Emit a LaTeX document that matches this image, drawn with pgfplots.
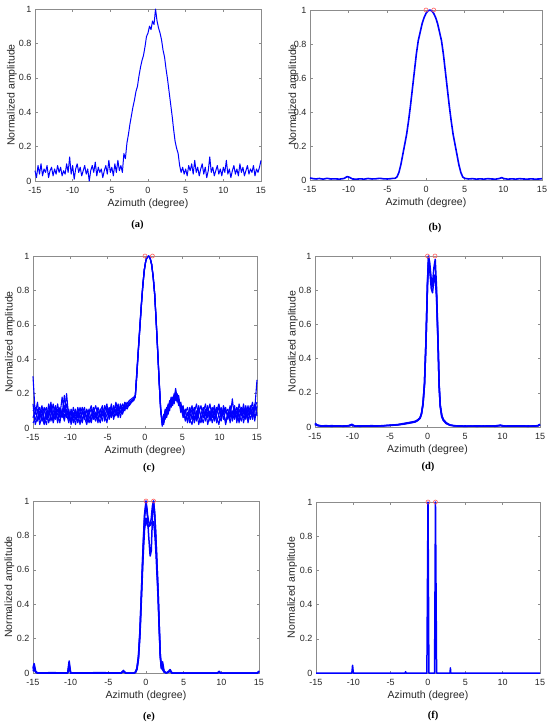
\documentclass[border=0pt]{standalone}
\usepackage{fontspec}
\setmainfont{Liberation Sans}
\newfontfamily\capfont{Liberation Serif}
\usepackage{pgfplots}
\usepackage{pgfplotstable}
\pgfplotsset{compat=1.18}
\definecolor{mblue}{rgb}{0,0,1}
\definecolor{mred}{rgb}{1,0.35,0.35}
\definecolor{mgray}{gray}{0.55}
\definecolor{mtext}{gray}{0.15}

\pgfplotstableread{
x c1 c2 c3 c4 c5
-15.0 0.30 0.14 0.10 0.06 0.03
-14.7 0.08 0.02 0.12 0.10 0.05
-14.4 0.15 0.06 0.04 0.11 0.09
-14.1 0.05 0.10 0.08 0.02 0.12
-13.8 0.11 0.04 0.13 0.07 0.06
-13.5 0.03 0.09 0.06 0.12 0.02
-13.2 0.09 0.12 0.02 0.05 0.10
-12.9 0.06 0.03 0.10 0.14 0.07
-12.6 0.13 0.08 0.15 0.04 0.11
-12.3 0.07 0.14 0.05 0.09 0.03
-12.0 0.10 0.05 0.12 0.13 0.08
-11.7 0.04 0.11 0.08 0.03 0.14
-11.4 0.12 0.07 0.03 0.10 0.06
-11.1 0.08 0.18 0.11 0.06 0.10
-10.8 0.19 0.09 0.06 0.13 0.04
-10.5 0.06 0.20 0.14 0.08 0.11
-10.2 0.11 0.05 0.09 0.03 0.07
-9.9 0.02 0.10 0.04 0.11 0.09
-9.6 0.09 0.06 0.12 0.07 0.03
-9.3 0.05 0.11 0.07 0.02 0.10
-9.0 0.12 0.03 0.09 0.10 0.06
-8.7 0.07 0.08 0.02 0.06 0.12
-8.4 0.03 0.12 0.10 0.09 0.05
-8.1 0.10 0.06 0.05 0.12 0.08
-7.8 0.06 0.02 0.11 0.04 0.10
-7.5 0.11 0.09 0.07 0.08 0.03
-7.2 0.04 0.13 0.03 0.11 0.07
-6.9 0.09 0.07 0.10 0.05 0.12
-6.6 0.13 0.04 0.06 0.09 0.08
-6.3 0.07 0.10 0.12 0.03 0.05
-6.0 0.03 0.06 0.08 0.11 0.10
-5.7 0.10 0.12 0.04 0.07 0.13
-5.4 0.06 0.08 0.13 0.10 0.04
-5.1 0.12 0.03 0.09 0.14 0.08
-4.8 0.08 0.11 0.06 0.05 0.12
-4.5 0.14 0.07 0.12 0.09 0.06
-4.2 0.05 0.13 0.08 0.12 0.10
-3.9 0.11 0.09 0.15 0.07 0.13
-3.6 0.08 0.14 0.10 0.12 0.06
-3.3 0.13 0.06 0.12 0.09 0.14
-3.0 0.10 0.12 0.08 0.14 0.11
-2.7 0.14 0.10 0.13 0.11 0.15
-2.4 0.12 0.15 0.11 0.14 0.13
-2.1 0.15 0.13 0.14 0.16 0.14
-1.8 0.16 0.15 0.15 0.17 0.16
-1.5 0.17 0.17 0.16 0.18 0.17
-1.3 0.19 0.18 0.18 0.19 0.18
-1.1 0.32 0.30 0.33 0.31 0.30
-0.9 0.45 0.44 0.46 0.45 0.44
-0.7 0.58 0.57 0.59 0.58 0.57
-0.5 0.71 0.70 0.72 0.71 0.70
-0.3 0.83 0.82 0.83 0.82 0.82
-0.1 0.92 0.91 0.92 0.92 0.91
0.1 0.97 0.97 0.97 0.97 0.97
0.3 0.995 0.995 0.995 0.995 0.995
0.5 1.0 1.0 1.0 1.0 1.0
0.7 0.985 0.985 0.985 0.985 0.985
0.9 0.95 0.95 0.94 0.95 0.95
1.1 0.88 0.87 0.88 0.88 0.87
1.3 0.78 0.77 0.78 0.78 0.77
1.5 0.62 0.61 0.63 0.62 0.61
1.7 0.45 0.44 0.46 0.45 0.44
1.9 0.27 0.26 0.28 0.27 0.26
2.1 0.11 0.10 0.12 0.11 0.10
2.3 0.03 0.05 0.02 0.04 0.01
2.5 0.06 0.02 0.08 0.03 0.05
2.7 0.10 0.07 0.05 0.09 0.11
2.9 0.07 0.12 0.10 0.06 0.09
3.1 0.13 0.09 0.14 0.11 0.08
3.3 0.10 0.15 0.12 0.16 0.13
3.5 0.16 0.13 0.17 0.12 0.18
3.7 0.14 0.18 0.15 0.17 0.13
3.9 0.19 0.15 0.20 0.14 0.17
4.1 0.17 0.21 0.16 0.19 0.23
4.3 0.20 0.16 0.19 0.15 0.18
4.5 0.15 0.19 0.13 0.17 0.14
4.8 0.12 0.10 0.15 0.09 0.13
5.1 0.08 0.13 0.07 0.12 0.06
5.4 0.11 0.05 0.10 0.04 0.09
5.7 0.04 0.09 0.03 0.08 0.12
6.0 0.09 0.03 0.12 0.06 0.05
6.3 0.13 0.08 0.05 0.11 0.02
6.6 0.05 0.12 0.09 0.03 0.10
6.9 0.10 0.04 0.14 0.08 0.06
7.2 0.02 0.09 0.06 0.13 0.11
7.5 0.08 0.13 0.03 0.05 0.07
7.8 0.12 0.06 0.10 0.09 0.03
8.1 0.04 0.11 0.07 0.14 0.09
8.4 0.09 0.02 0.12 0.06 0.13
8.7 0.14 0.08 0.04 0.10 0.05
9.0 0.06 0.12 0.09 0.03 0.11
9.3 0.11 0.05 0.13 0.08 0.04
9.6 0.03 0.10 0.06 0.12 0.08
9.9 0.08 0.14 0.02 0.07 0.12
10.2 0.12 0.07 0.10 0.04 0.06
10.5 0.05 0.11 0.08 0.13 0.10
10.8 0.10 0.03 0.12 0.09 0.02
11.1 0.07 0.09 0.05 0.11 0.08
11.4 0.13 0.06 0.10 0.03 0.12
11.7 0.04 0.17 0.08 0.10 0.06
12.0 0.09 0.05 0.13 0.07 0.11
12.3 0.12 0.10 0.03 0.12 0.05
12.6 0.06 0.03 0.11 0.08 0.14
12.9 0.11 0.12 0.07 0.04 0.09
13.2 0.03 0.08 0.14 0.11 0.06
13.5 0.10 0.13 0.05 0.07 0.12
13.8 0.07 0.04 0.11 0.13 0.03
14.1 0.13 0.10 0.08 0.05 0.10
14.4 0.05 0.15 0.12 0.09 0.07
14.7 0.11 0.06 0.04 0.14 0.12
15.0 0.28 0.09 0.13 0.07 0.15
}\tabc

\pgfplotstableread{
x d1 d2 d3
-15.0 0.022 0.018 0.015
-14.7 0.012 0.010 0.008
-14.2 0.006 0.007 0.005
-13.5 0.008 0.005 0.006
-12.8 0.005 0.008 0.004
-12.0 0.007 0.005 0.006
-11.2 0.005 0.006 0.004
-10.5 0.008 0.006 0.007
-10.1 0.016 0.012 0.010
-9.7 0.006 0.005 0.006
-9.0 0.005 0.007 0.004
-8.2 0.007 0.005 0.006
-7.5 0.006 0.008 0.005
-6.8 0.005 0.006 0.007
-6.0 0.008 0.007 0.006
-5.3 0.009 0.008 0.010
-4.6 0.012 0.010 0.011
-4.0 0.014 0.013 0.012
-3.5 0.018 0.016 0.015
-3.0 0.022 0.020 0.018
-2.5 0.026 0.024 0.022
-2.0 0.030 0.028 0.026
-1.6 0.034 0.032 0.030
-1.3 0.042 0.040 0.038
-1.0 0.055 0.052 0.050
-0.8 0.080 0.078 0.076
-0.6 0.140 0.135 0.130
-0.4 0.26 0.25 0.25
-0.2 0.51 0.50 0.50
0.0 0.85 0.84 0.83
0.13 1.0 0.98 0.96
0.3 0.96 0.93 0.92
0.5 0.86 0.84 0.81
0.67 0.84 0.82 0.785
0.85 0.93 0.88 0.86
1.03 0.98 0.89 0.87
1.2 0.82 0.78 0.76
1.4 0.51 0.50 0.49
1.55 0.25 0.24 0.24
1.7 0.13 0.12 0.12
1.9 0.070 0.065 0.060
2.1 0.045 0.040 0.040
2.5 0.025 0.022 0.020
3.0 0.012 0.011 0.010
3.6 0.007 0.006 0.008
4.3 0.005 0.007 0.005
5.0 0.006 0.005 0.004
5.8 0.005 0.006 0.005
6.6 0.007 0.004 0.006
7.4 0.005 0.006 0.005
8.2 0.006 0.005 0.007
9.0 0.005 0.007 0.004
9.7 0.011 0.009 0.008
10.3 0.005 0.006 0.005
11.0 0.006 0.005 0.007
11.8 0.005 0.007 0.005
12.6 0.007 0.005 0.006
13.4 0.005 0.006 0.004
14.2 0.006 0.005 0.007
14.7 0.008 0.007 0.006
15.0 0.016 0.014 0.012
}\tabd

\pgfplotstableread{
x e1 e2 e3
-15.0 0.030 0.020 0.010
-14.85 0.055 0.040 0.020
-14.65 0.010 0.008 0.005
-14.4 0.0 0.0 0.0
-12.5 0.002 0.001 0.0
-10.4 0.0 0.0 0.0
-10.2 0.070 0.050 0.030
-10.0 0.0 0.0 0.0
-6.0 0.002 0.001 0.0
-3.3 0.0 0.0 0.0
-3.0 0.015 0.010 0.008
-2.7 0.0 0.0 0.0
-1.6 0.0 0.0 0.0
-1.4 0.005 0.004 0.003
-1.2 0.030 0.025 0.020
-1.0 0.10 0.09 0.08
-0.8 0.25 0.24 0.22
-0.6 0.48 0.47 0.44
-0.4 0.72 0.71 0.66
-0.2 0.92 0.90 0.83
0.0 1.0 0.98 0.90
0.15 0.95 0.93 0.86
0.35 0.80 0.88 0.85
0.55 0.68 0.86 0.86
0.7 0.71 0.87 0.90
0.85 0.90 0.88 0.97
1.0 1.0 0.88 1.0
1.15 0.93 0.82 0.93
1.3 0.80 0.72 0.80
1.45 0.64 0.58 0.64
1.6 0.48 0.44 0.48
1.75 0.28 0.26 0.28
1.9 0.10 0.09 0.10
2.05 0.030 0.025 0.030
2.2 0.065 0.040 0.020
2.4 0.010 0.008 0.005
2.7 0.0 0.0 0.0
3.0 0.010 0.008 0.005
3.2 0.020 0.015 0.010
3.45 0.0 0.0 0.0
9.5 0.0 0.0 0.0
9.7 0.010 0.008 0.005
9.9 0.0 0.0 0.0
14.8 0.0 0.0 0.0
15.0 0.012 0.010 0.008
}\tabe

\pgfplotsset{
  mstyle/.style={
    scale only axis, anchor=north west,
    xmin=-15, xmax=15, ymin=0, ymax=1,
    xtick={-15,-10,-5,0,5,10,15},
    xticklabels={-15,-10,-5,0,5,10,15},
    ytick={0,0.2,0.4,0.6,0.8,1},
    yticklabels={0,0.2,0.4,0.6,0.8,1},
    tick align=inside, tick pos=both,
    major tick length=2.5pt,
    axis line style={mgray, line width=0.6pt},
    every tick/.style={mgray, line width=0.5pt},
    tick label style={font=\fontsize{9}{10}\selectfont, text=mtext},
    xticklabel style={yshift=-2.5pt},
    xlabel={Azimuth (degree)}, ylabel={Normalized amplitude},
    label style={font=\fontsize{10.5}{12}\selectfont, text=mtext},
    xlabel style={at={(axis description cs:0.5,-0.135)}, anchor=center},
    clip=false,
  },
  cline/.style={mblue, line width=1.5pt, line join=round},
  circs/.style={only marks, mark=o, mark size=2pt, mred, mark options={line width=0.6pt}},
}

\begin{document}
\begin{tikzpicture}
\path[use as bounding box] (0,0) rectangle (550pt,-726pt);

% (a)
\begin{axis}[mstyle, at={(35pt,-9pt)}, width=226pt, height=172pt,
  ylabel style={at={(axis description cs:-0.102,0.5)}, anchor=center}]
\addplot[mblue, line width=1pt, line join=round] coordinates {
(-15.0,0.06) (-14.8,0.02) (-14.6,0.09) (-14.4,0.04) (-14.2,0.10) (-14.0,0.03)
(-13.8,0.07) (-13.6,0.05) (-13.4,0.09) (-13.2,0.02) (-13.0,0.06) (-12.8,0.08)
(-12.6,0.03) (-12.4,0.07) (-12.2,0.04) (-12.0,0.09) (-11.8,0.05) (-11.6,0.08)
(-11.4,0.03) (-11.2,0.06) (-11.0,0.04) (-10.8,0.10) (-10.6,0.05) (-10.4,0.14)
(-10.2,0.04) (-10.0,0.09) (-9.8,0.01) (-9.6,0.07) (-9.4,0.10) (-9.2,0.05)
(-9.0,0.08) (-8.8,0.03) (-8.6,0.06) (-8.4,0.09) (-8.2,0.04) (-8.0,0.07)
(-7.8,0.00) (-7.6,0.06) (-7.4,0.09) (-7.2,0.05) (-7.0,0.11) (-6.8,0.03)
(-6.6,0.08) (-6.4,0.05) (-6.2,0.07) (-6.0,0.02) (-5.8,0.06) (-5.6,0.09)
(-5.4,0.04) (-5.2,0.12) (-5.0,0.05) (-4.8,0.08) (-4.6,0.03) (-4.4,0.10)
(-4.2,0.05) (-4.0,0.12) (-3.8,0.06) (-3.6,0.09) (-3.4,0.05) (-3.2,0.16)
(-3.0,0.13) (-2.8,0.22) (-2.6,0.27) (-2.4,0.33) (-2.2,0.38) (-2.0,0.43)
(-1.8,0.47) (-1.6,0.52) (-1.4,0.55) (-1.2,0.61) (-1.0,0.66) (-0.8,0.70)
(-0.6,0.73) (-0.4,0.78) (-0.2,0.84) (0.0,0.86) (0.2,0.90) (0.4,0.88)
(0.6,0.93) (0.8,0.91) (1.0,1.00) (1.2,0.93) (1.4,0.89) (1.6,0.86)
(1.8,0.82) (2.0,0.76) (2.2,0.72) (2.4,0.65) (2.6,0.59) (2.8,0.52)
(3.0,0.45) (3.2,0.38) (3.4,0.30) (3.6,0.23) (3.8,0.19) (4.0,0.16)
(4.2,0.09) (4.4,0.05) (4.6,0.08) (4.8,0.04) (5.0,0.07) (5.2,0.03)
(5.4,0.09) (5.6,0.06) (5.8,0.10) (6.0,0.04) (6.2,0.12) (6.4,0.05)
(6.6,0.08) (6.8,0.03) (7.0,0.07) (7.2,0.10) (7.4,0.04) (7.6,0.08)
(7.8,0.02) (8.0,0.06) (8.2,0.14) (8.4,0.05) (8.6,0.08) (8.8,0.03)
(9.0,0.06) (9.2,0.09) (9.4,0.04) (9.6,0.07) (9.8,0.03) (10.0,0.08)
(10.2,0.05) (10.4,0.12) (10.6,0.04) (10.8,0.07) (11.0,0.02) (11.2,0.06)
(11.4,0.09) (11.6,0.04) (11.8,0.07) (12.0,0.03) (12.2,0.10) (12.4,0.05)
(12.6,0.08) (12.8,0.03) (13.0,0.06) (13.2,0.09) (13.4,0.04) (13.6,0.07)
(13.8,0.05) (14.0,0.09) (14.2,0.03) (14.4,0.07) (14.6,0.05) (14.8,0.08)
(15.0,0.12)};
\end{axis}

% (b)
\begin{axis}[mstyle, at={(310pt,-10pt)}, width=232pt, height=170pt,
  ylabel style={at={(axis description cs:-0.072,0.5)}, anchor=center}]
\addplot[cline, line width=1.6pt] coordinates {
(-15,0.012) (-14.6,0.008) (-14.2,0.006) (-13.8,0.009) (-13.3,0.005) (-12.8,0.010)
(-12.3,0.006) (-11.8,0.007) (-11.2,0.005) (-10.6,0.009) (-10.2,0.020) (-9.9,0.016)
(-9.5,0.006) (-9.0,0.005) (-8.5,0.007) (-8.0,0.005) (-7.5,0.009) (-7.0,0.006)
(-6.5,0.007) (-6.0,0.010) (-5.5,0.007) (-5.0,0.006) (-4.5,0.008) (-4.25,0.010)
(-4.0,0.010) (-3.75,0.018) (-3.5,0.045) (-3.25,0.09) (-3.0,0.15) (-2.75,0.21)
(-2.5,0.27) (-2.25,0.35) (-2.0,0.44) (-1.75,0.54) (-1.5,0.64) (-1.25,0.74)
(-1.0,0.82) (-0.75,0.87) (-0.5,0.92) (-0.25,0.955) (0.0,0.98) (0.25,0.995)
(0.5,1.0) (0.75,0.995) (1.0,0.98) (1.25,0.955) (1.5,0.92) (1.75,0.87)
(2.0,0.82) (2.25,0.74) (2.5,0.64) (2.75,0.54) (3.0,0.44) (3.25,0.35)
(3.5,0.27) (3.75,0.21) (4.0,0.15) (4.25,0.09) (4.5,0.045) (4.75,0.018)
(5.0,0.010) (5.5,0.006) (6.0,0.008) (6.5,0.005) (7.0,0.007) (7.5,0.005)
(8.0,0.008) (8.5,0.006) (9.0,0.005) (9.5,0.009) (9.8,0.014) (10.1,0.008)
(10.6,0.005) (11.1,0.007) (11.6,0.005) (12.1,0.008) (12.6,0.006) (13.1,0.005)
(13.6,0.007) (14.1,0.005) (14.6,0.006) (15,0.008)};
\addplot[circs] coordinates {(0,1) (1,1)};
\end{axis}

% (c)
\begin{axis}[mstyle, at={(33pt,-256pt)}, width=224pt, height=172pt,
  ylabel style={at={(axis description cs:-0.103,0.5)}, anchor=center}]
\addplot[cline, line width=1.1pt] table[x=x, y=c1] {\tabc};
\addplot[cline, line width=1.1pt] table[x=x, y=c2] {\tabc};
\addplot[cline, line width=1.1pt] table[x=x, y=c3] {\tabc};
\addplot[cline, line width=1.1pt] table[x=x, y=c4] {\tabc};
\addplot[cline, line width=1.1pt] table[x=x, y=c5] {\tabc};
\addplot[circs] coordinates {(0,1) (1,1)};
\end{axis}

% (d)
\begin{axis}[mstyle, at={(315pt,-256pt)}, width=225pt, height=171pt,
  ylabel style={at={(axis description cs:-0.098,0.5)}, anchor=center}]
\addplot[cline] table[x=x, y=d1] {\tabd};
\addplot[cline] table[x=x, y=d2] {\tabd};
\addplot[cline] table[x=x, y=d3] {\tabd};
\addplot[circs] coordinates {(0,1) (1,1)};
\end{axis}

% (e)
\begin{axis}[mstyle, at={(33pt,-501pt)}, width=226pt, height=172pt,
  ylabel style={at={(axis description cs:-0.104,0.5)}, anchor=center}]
\addplot[cline] table[x=x, y=e1] {\tabe};
\addplot[cline] table[x=x, y=e2] {\tabe};
\addplot[cline] table[x=x, y=e3] {\tabe};
\addplot[circs] coordinates {(0,1) (1,1)};
\end{axis}

% (f)
\begin{axis}[mstyle, at={(316pt,-502pt)}, width=224pt, height=171pt,
  ylabel style={at={(axis description cs:-0.107,0.5)}, anchor=center}]
\addplot[cline] coordinates {
(-15,0) (-10.2,0) (-10.1,0.045) (-10.0,0) (-3.05,0) (-3.0,0.008) (-2.95,0)
(-0.15,0) (0.0,1.0) (0.12,0) (0.88,0) (1.0,1.0) (1.15,0)
(2.95,0) (3.0,0.03) (3.05,0) (15,0)};
\addplot[circs] coordinates {(0,1) (1,1)};
\end{axis}

\tikzset{figcap/.style={font=\capfont\bfseries\fontsize{10.5}{12}\selectfont, text=black}}
\node[figcap] at (137.5pt,-225pt) {(a)};
\node[figcap] at (435pt,-228pt) {(b)};
\node[figcap] at (149pt,-468pt) {(c)};
\node[figcap] at (428pt,-467pt) {(d)};
\node[figcap] at (149pt,-717pt) {(e)};
\node[figcap] at (433pt,-716pt) {(f)};
\end{tikzpicture}
\end{document}
